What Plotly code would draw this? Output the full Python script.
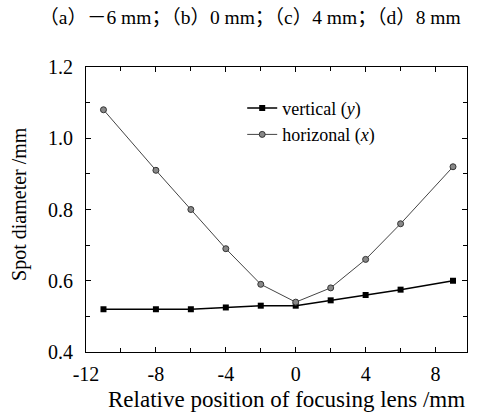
import plotly.graph_objects as go

x_pos = [-11, -8, -6, -4, -2, 0, 2, 4, 6, 9]
vertical_y = [0.52, 0.52, 0.52, 0.525, 0.53, 0.53, 0.545, 0.56, 0.575, 0.60]
horizontal_x = [1.08, 0.91, 0.80, 0.69, 0.59, 0.54, 0.58, 0.66, 0.76, 0.92]
x_ticks = [-12, -8, -4, 0, 4, 8]
y_ticks = [0.4, 0.6, 0.8, 1.0, 1.2]

FONT = "Liberation Serif, Noto Sans CJK SC, serif"

fig = go.Figure()
fig.add_trace(go.Scatter(
    x=x_pos, y=vertical_y, mode="lines+markers", name="vertical (<i>y</i>)",
    line=dict(color="black", width=1.5),
    marker=dict(symbol="square", size=6, color="black"),
))
fig.add_trace(go.Scatter(
    x=x_pos, y=horizontal_x, mode="lines+markers", name="horizonal (<i>x</i>)",
    line=dict(color="#444", width=1),
    marker=dict(symbol="circle", size=6, color="#888", line=dict(color="#333", width=1)),
))

axis_common = dict(
    showgrid=False, zeroline=False, showline=True, linecolor="black", linewidth=1,
    mirror="allticks", ticks="inside", ticklen=5, tickcolor="black",
    tickfont=dict(family=FONT, size=20, color="black"),
    minor=dict(ticks="inside", ticklen=4, tickcolor="black"),
)

fig.update_xaxes(
    **axis_common, range=[-12, 9.8], tickvals=x_ticks,
    ticktext=[str(v) for v in x_ticks], ticklabelstandoff=4,
)
fig.update_xaxes(minor_dtick=2, minor_tick0=0)
fig.update_yaxes(
    **axis_common, range=[0.4, 1.2], tickvals=y_ticks,
    ticktext=["%.1f" % v for v in y_ticks], ticklabelstandoff=8,
)
fig.update_yaxes(minor_dtick=0.1, minor_tick0=0.4)

fig.add_annotation(
    text="Relative position of focusing lens /mm", xref="paper", yref="paper",
    x=0.527, y=-0.168, xanchor="center", yanchor="middle", showarrow=False,
    font=dict(family=FONT, size=23, color="black"),
)
fig.add_annotation(
    text="Spot diameter /mm", xref="paper", yref="paper",
    x=-0.173, y=0.52, xanchor="center", yanchor="middle", showarrow=False,
    textangle=-90, font=dict(family=FONT, size=20, color="black"),
)

fig.update_layout(
    width=479, height=415,
    margin=dict(l=86, r=12, t=67, b=63),
    paper_bgcolor="white", plot_bgcolor="white",
    showlegend=True,
    legend=dict(x=0.41, y=0.92, xanchor="left", yanchor="top",
                bgcolor="rgba(0,0,0,0)", font=dict(family=FONT, size=18, color="black"),
                tracegroupgap=0),
    title=dict(text="（a）－6 mm；（b）0 mm；（c）4 mm；（d）8 mm",
               x=0.082, xanchor="left", y=0.959, yanchor="middle",
               font=dict(family=FONT, size=19.5, color="black")),
)

fig.write_html("out.html")
